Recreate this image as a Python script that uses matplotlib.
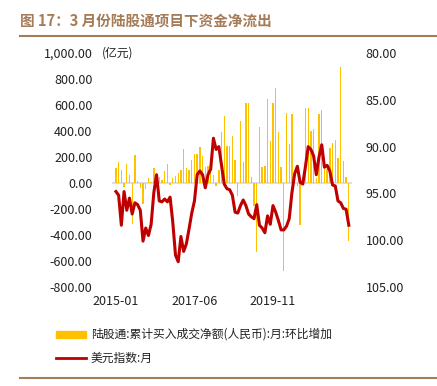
import matplotlib.pyplot as plt
import numpy as np

plt.rcParams['font.family'] = ['Noto Sans CJK SC', 'DejaVu Sans']

# 月度数据 2015-01 ~ 2022-03
bar_vals = [115, 160, 100, -33, 145, 60, -315, 215, 15, -40,
            -160, -45, 40, 10, 115, 5, 50, 25, 90, 150,
            -12, 40, 55, 75, 100, 260, 115, 100, 175, 225,
            225, 275, 210, 120, 128, 145, 60, -23, 100, 390,
            513, 287, 287, 360, 175, -97, 475, 165, 613, 613,
            50, -175, -533, 430, 125, 133, 650, 325, 613, 735,
            390, 120, -675, 540, 300, 530, 10, -20, -323, 10,
            580, 575, 400, 415, 40, 530, 560, 130, 110, 270,
            305, 330, 190, 895, 170, 45, -445]
usd_idx = [94.8, 95.2, 98.4, 94.8, 96.8, 95.5, 97.2, 96.0, 96.2, 96.8,
           100.1, 98.7, 99.5, 98.3, 94.9, 93.0, 95.8, 95.9, 95.6, 95.9,
           95.4, 98.1, 101.6, 102.3, 99.6, 101.2, 100.4, 98.8, 97.1, 95.8,
           93.0, 92.6, 93.0, 94.4, 93.0, 92.4, 89.1, 90.3, 90.0, 92.0,
           94.0, 94.5, 94.6, 95.2, 97.0, 97.1, 96.3, 95.7, 96.3, 97.2,
           97.5, 97.7, 96.2, 98.4, 98.7, 99.2, 97.4, 98.3, 96.3, 97.0,
           97.9, 98.9, 98.9, 98.5, 97.7, 94.9, 92.9, 92.1, 93.8, 94.0,
           92.1, 90.0, 90.3, 91.0, 93.0, 91.1, 89.8, 92.2, 92.0, 92.6,
           94.1, 94.2, 95.8, 96.0, 96.6, 96.7, 98.4]
tick_labels = ['2015-01', '2017-06', '2019-11']
tick_pos = [0, 29, 58]

fig = plt.figure(figsize=(4.37, 3.86), dpi=100)
ax = fig.add_axes([0.256, 0.2565, 0.549, 0.606])
ax2 = ax.twinx()

x = np.arange(len(bar_vals))
ax.bar(x, bar_vals, width=0.5, color='#FFC000', zorder=2)
ax.axhline(0, color='#d9d9d9', lw=1.2, zorder=1)
ax2.plot(np.arange(len(usd_idx)), usd_idx, color='#C00000', lw=2.2)

ax.set_xlim(-1.5, 87.1)
ax.set_ylim(-800, 1000)
ax.set_yticks(np.arange(-800, 1001, 200))
ax.set_yticklabels([f'{v:,.2f}' for v in np.arange(-800, 1001, 200)])
ax2.set_ylim(105, 80)
ax2.set_yticks(np.arange(80, 106, 5))
ax2.set_yticklabels([f'{v:.2f}' for v in np.arange(80, 106, 5)])
ax.set_xticks(tick_pos)
ax.set_xticklabels(tick_labels)

for a in (ax, ax2):
    for s in a.spines.values():
        s.set_visible(False)
    a.tick_params(length=0, labelsize=9, colors='#222222')
ax.tick_params(axis='y', pad=14)
ax.tick_params(axis='x', pad=6)
ax2.tick_params(axis='y', pad=10)

fig.text(0.232, 0.862, '(亿元)', fontsize=8.5, va='center', ha='left', color='#222222')

# 标题
fig.text(0.045, 0.948, '图 17：3 月份陆股通项目下资金净流出', fontsize=10.5,
         fontweight='bold', color='#A67C58', va='center', ha='left')
fig.add_artist(plt.Line2D([0.045, 1.0], [0.908, 0.908], color='#A67C58', lw=1.5))
fig.add_artist(plt.Line2D([0.045, 1.0], [0.022, 0.022], color='#A67C58', lw=1.5))

# 图例
fig.add_artist(plt.Rectangle((0.128, 0.125), 0.068, 0.018, color='#FFC000',
                             transform=fig.transFigure))
fig.text(0.208, 0.134, '陆股通:累计买入成交净额(人民币):月:环比增加', fontsize=8.5,
         va='center', ha='left', color='#222222')
fig.add_artist(plt.Line2D([0.128, 0.196], [0.072, 0.072], color='#C00000', lw=2))
fig.text(0.208, 0.072, '美元指数:月', fontsize=8.5, va='center', ha='left', color='#222222')

fig.savefig('out.png', dpi=100)
